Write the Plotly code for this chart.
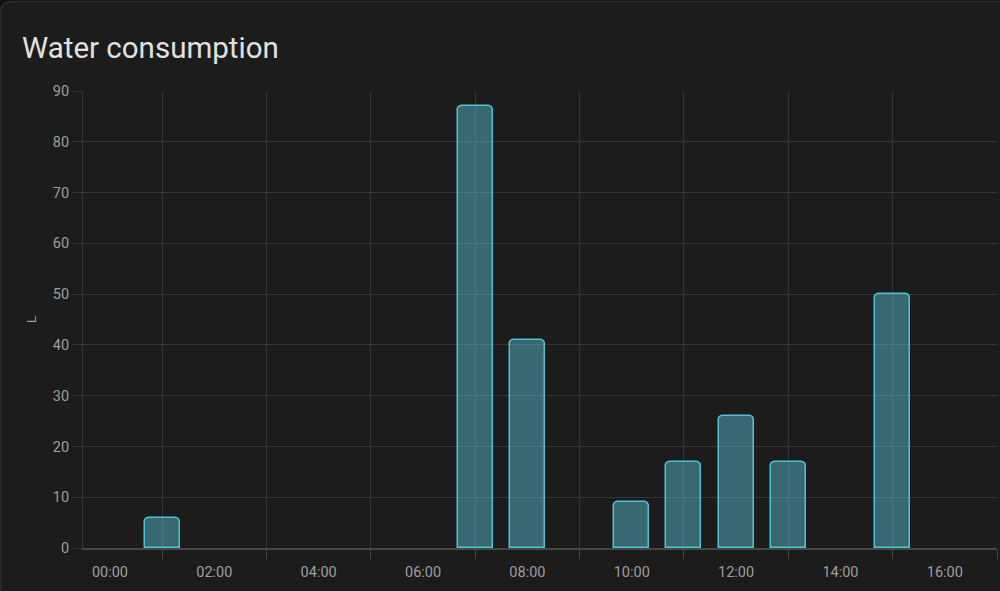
import plotly.graph_objects as go

# ---- data ----
hours = ["01:00", "07:00", "08:00", "10:00", "11:00", "12:00", "13:00", "15:00"]
litres = [6, 87, 41, 9, 17, 26, 17, 50]
tick_labels = ["00:00", "02:00", "04:00", "06:00", "08:00", "10:00", "12:00", "14:00", "16:00"]
day = "2024-01-01"

x_vals = [f"{day} {h}" for h in hours]
tick_vals = [f"{day} {t}" for t in tick_labels]

W, H = 1000, 591
L, R, T, B = 83, 3, 91, 43
pw, ph = W - L - R, H - T - B

def px(x):
    return (x - L) / pw

def py(y):
    return (H - B - y) / ph

fig = go.Figure()
fig.add_trace(go.Bar(
    x=x_vals, y=litres,
    width=0.67 * 3600000,
    marker=dict(color="rgba(88,190,210,0.48)",
                line=dict(color="#4fc3d6", width=1.5),
                cornerradius=5),
    hoverinfo="skip",
))

# card background with rounded top-left corner
r = 12
x0, y0 = 0.5, 1.5
x1, y1 = W + 20, H + 20
path = (f"M {px(x0)},{py(y1)} L {px(x0)},{py(y0 + r)} "
        f"Q {px(x0)},{py(y0)} {px(x0 + r)},{py(y0)} "
        f"L {px(x1)},{py(y0)} L {px(x1)},{py(y1)} Z")

fig.update_layout(
    width=W, height=H,
    margin=dict(l=L, r=R, t=T, b=B, pad=0),
    paper_bgcolor="#111111",
    plot_bgcolor="rgba(0,0,0,0)",
    font=dict(family="Roboto, sans-serif", color="#9e9e9e", size=14.5),
    showlegend=False,
    bargap=0,
    title=dict(text="Water consumption", x=22 / W, xanchor="left",
               y=1 - 48 / H, yanchor="middle",
               font=dict(size=29.5, color="#e1e1e1", family="Roboto, sans-serif")),
    shapes=[dict(type="path", path=path, xref="paper", yref="paper",
                 fillcolor="#1c1c1c", line=dict(color="#2e2e2e", width=1.5),
                 layer="below")],
    xaxis=dict(
        type="date",
        range=["2023-12-31 23:29", f"{day} 17:00"],
        tickmode="array", tickvals=tick_vals, ticktext=tick_labels,
        showgrid=False, ticks="", ticklen=0,
        ticklabelstandoff=10,
        showline=True, linecolor="#474747", linewidth=1.5,
        zeroline=False,
        minor=dict(tickmode="array",
                   tickvals=[f"{day} {h:02d}:00" for h in range(1, 18, 2)],
                   showgrid=True, gridcolor="#363636", gridwidth=1,
                   ticks="outside", ticklen=9, tickcolor="#474747", tickwidth=1),
        tickfont=dict(size=14.5, color="#9e9e9e"),
        fixedrange=True,
    ),
    yaxis=dict(
        range=[0, 90], dtick=10,
        showgrid=True, gridcolor="#363636", gridwidth=1,
        ticks="outside", ticklen=10, tickcolor="#363636",
        showline=True, linecolor="#363636", linewidth=1,
        zeroline=False,
        tickfont=dict(size=14.5, color="#9e9e9e"),
        title=dict(text="L", standoff=13, font=dict(size=13, color="#9e9e9e")),
        fixedrange=True,
    ),
)

fig.write_html("out.html", config={"displayModeBar": False},
               post_script="document.body.style.margin='0';document.body.style.overflow='hidden';")
